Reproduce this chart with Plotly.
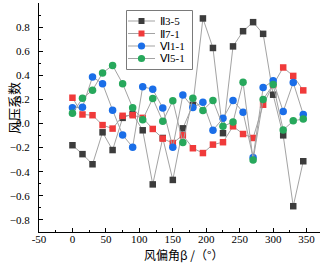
import plotly.graph_objects as go

angles = list(range(0, 360, 15))
series_names = ["Ⅱ3-5", "Ⅱ7-1", "Ⅵ1-1", "Ⅵ5-1"]
ii_3_5 = [-0.18, -0.254, -0.338, -0.073, -0.22, 0.047, 0.08, -0.056, -0.505, -0.12, -0.468, -0.04,
          0.155, 0.872, 0.627, -0.08, 0.64, 0.766, 0.841, 0.744, 0.239, -0.098, -0.686, -0.313]
ii_7_1 = [0.214, 0.075, 0.069, -0.013, -0.042, 0.064, 0.069, 0.047, -0.045, -0.125, -0.162, -0.097,
          -0.205, -0.245, -0.175, -0.155, -0.023, -0.087, -0.12, 0.156, 0.32, 0.465, 0.395, 0.275]
vi_1_1 = [0.13, 0.136, 0.387, 0.331, 0.111, -0.095, -0.196, 0.306, 0.284, 0.129, -0.196, 0.236,
          0.134, 0.176, -0.056, 0.043, 0.192, 0.094, -0.282, 0.298, 0.354, 0.1, 0.34, 0.075]
vi_5_1 = [0.086, 0.209, 0.276, 0.42, 0.482, 0.331, 0.13, 0.032, 0.208, 0.018, 0.188, -0.157,
          0.21, 0.109, 0.192, -0.023, 0.012, 0.343, -0.303, 0.2, 0.323, -0.054, 0.022, 0.038]
x_ticks = [-50, 0, 50, 100, 150, 200, 250, 300, 350]
y_ticks = [-0.8, -0.6, -0.4, -0.2, 0.0, 0.2, 0.4, 0.6, 0.8, 1.0]

colors = ["#3c3c3c", "#f03a3a", "#1a6ee8", "#27a85c"]
symbols = ["square", "square", "circle", "circle"]
sizes = [6.5, 6.5, 7.5, 7.5]
data = [ii_3_5, ii_7_1, vi_1_1, vi_5_1]

serif = "Liberation Serif, Times New Roman, serif"
cjk = "Noto Sans CJK SC"

W, H = 325, 263
ML, MR, MT, MB = 39, 5, 3, 31
PW, PH = W - ML - MR, H - MT - MB


def px(x):
    return (x - ML) / PW


def py(y):
    return (H - MB - y) / PH


fig = go.Figure()
for name, ys, c, s, sz in zip(series_names, data, colors, symbols, sizes):
    fig.add_trace(go.Scatter(
        x=angles, y=ys, name=name, mode="lines+markers",
        line=dict(color="#a3a3a3", width=1),
        marker=dict(symbol=s, size=sz, color=c, line=dict(width=0)),
        showlegend=False,
    ))

axis_common = dict(
    showgrid=False, zeroline=False, showline=True, linecolor="black", linewidth=1,
    ticks="inside", ticklen=4, tickcolor="black", tickwidth=1, automargin=False,
    tickfont=dict(family=serif, size=11, color="black"),
)
fig.update_xaxes(range=[-50, 370], tickvals=x_ticks, ticktext=[str(v) for v in x_ticks],
                 minor=dict(ticks="inside", ticklen=2, dtick=25, tick0=0, tickcolor="black"),
                 ticklabelstandoff=-3, **axis_common)
fig.update_yaxes(range=[-0.9, 1.0], tickvals=y_ticks,
                 ticktext=[("−" if v < 0 else "") + "%.1f" % abs(v) for v in y_ticks],
                 minor=dict(ticks="inside", ticklen=2, dtick=0.1, tick0=0, tickcolor="black"),
                 ticklabelstandoff=6, **axis_common)

fig.add_annotation(text="风压系数", xref="paper", yref="paper", x=px(14), y=py(108),
                   textangle=-90, showarrow=False, font=dict(family=cjk, size=13, color="black"),
                   xanchor="center", yanchor="middle")
fig.add_annotation(text="风偏角β /（°）", xref="paper", yref="paper", x=px(183), y=py(255),
                   showarrow=False, font=dict(family=cjk, size=12, color="black"),
                   xanchor="center", yanchor="middle")

# legend box (drawn as shapes + text, mirroring the reference's compact legend)
shapes = [dict(type="rect", xref="paper", yref="paper", x0=px(126.5), x1=px(192.5),
               y0=py(69.5), y1=py(10.5), line=dict(color="#7a7a7a", width=1),
               fillcolor="white", layer="above")]
row_y = [21.0, 33.5, 46.0, 58.5]
for name, c, s, ry in zip(series_names, colors, symbols, row_y):
    shapes.append(dict(type="line", xref="paper", yref="paper", x0=px(128), x1=px(155),
                       y0=py(ry), y1=py(ry), line=dict(color="#a3a3a3", width=1), layer="above"))
    r = 3.0 if s == "square" else 3.6
    shapes.append(dict(type="rect" if s == "square" else "circle", xref="paper", yref="paper",
                       x0=px(141.5 - r), x1=px(141.5 + r), y0=py(ry + r), y1=py(ry - r),
                       fillcolor=c, line=dict(width=0), layer="above"))
    fig.add_annotation(text=name, xref="paper", yref="paper", x=px(158), y=py(ry),
                       xanchor="left", yanchor="middle", showarrow=False,
                       font=dict(family=serif, size=11, color="black"))

fig.update_layout(
    width=W, height=H,
    margin=dict(l=ML, r=MR, t=MT, b=MB),
    paper_bgcolor="white", plot_bgcolor="white",
    showlegend=False,
    shapes=shapes,
)

fig.write_html("out.html", config={"displayModeBar": False},
               post_script="document.body.style.margin='0px';document.body.style.overflow='hidden';")
